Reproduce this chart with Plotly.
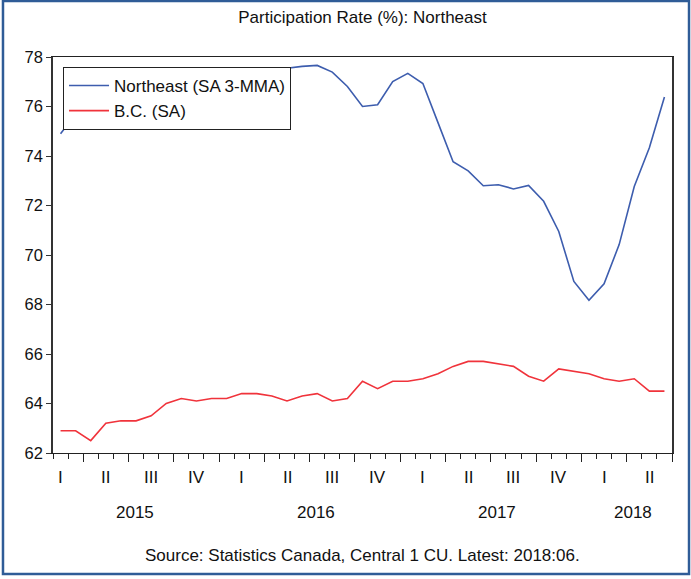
import pandas as pd
import plotly.graph_objects as go

# Monthly sample, 2015:02 - 2018:06
start_month = "2015-02-01"
n_months = 41

# Participation rate (%), Northeast, seasonally adjusted 3-month moving average
northeast = [
    74.9, 75.7, 76.2, 76.4, 76.0, 75.8, 76.1, 76.5, 76.9, 77.0,
    76.6, 76.3, 76.2, 76.4, 76.7, 77.55, 77.62, 77.66, 77.39, 76.81,
    76.00, 76.07, 77.01, 77.34, 76.93, 75.35, 73.77, 73.40, 72.80, 72.84,
    72.67, 72.81, 72.17, 70.95, 68.93, 68.17, 68.84, 70.42, 72.77, 74.33,
    76.38,
]

# Participation rate (%), British Columbia, seasonally adjusted
bc = [
    62.9, 62.9, 62.5, 63.2, 63.3, 63.3, 63.5, 64.0, 64.2, 64.1,
    64.2, 64.2, 64.4, 64.4, 64.3, 64.1, 64.3, 64.4, 64.1, 64.2,
    64.9, 64.6, 64.9, 64.9, 65.0, 65.2, 65.5, 65.7, 65.7, 65.6,
    65.5, 65.1, 64.9, 65.4, 65.3, 65.2, 65.0, 64.9, 65.0, 64.5,
    64.5,
]

series_names = ["Northeast (SA 3-MMA)", "B.C. (SA)"]
quarter_names = ["I", "II", "III", "IV"]
y_ticks = [62, 64, 66, 68, 70, 72, 74, 76, 78]

months = pd.date_range(start_month, periods=n_months, freq="MS")
idx = list(range(n_months))

FONT = "Liberation Sans, Arial, sans-serif"
BLUE = "#3D5DAE"
RED = "#F0333B"

fig = go.Figure()
fig.add_trace(go.Scatter(
    x=idx, y=northeast, mode="lines", name=series_names[0],
    line=dict(color=BLUE, width=1.6),
))
fig.add_trace(go.Scatter(
    x=idx, y=bc, mode="lines", name=series_names[1],
    line=dict(color=RED, width=1.6),
))

# Quarter boundaries (long ticks) and month boundaries (short ticks)
all_months = pd.date_range(start_month, periods=n_months + 1, freq="MS")
quarter_bounds = [i - 0.5 for i, m in enumerate(all_months) if m.month in (1, 4, 7, 10)]

annotations = []
# Quarter labels centred on the middle month of each quarter
for i, m in enumerate(months):
    if m.month in (2, 5, 8, 11):
        annotations.append(dict(
            x=i, y=-0.063, xref="x", yref="paper",
            text=quarter_names[(m.month - 1) // 3],
            showarrow=False, xanchor="center", yanchor="middle",
            font=dict(family=FONT, size=17, color="#111"),
        ))

# Year labels
for yr in sorted(set(months.year)):
    jan = (yr - months[0].year) * 12 + (1 - months[0].month)
    dec = min(jan + 11, n_months - 1)
    annotations.append(dict(
        x=(jan + dec) / 2 + 0.4, y=-0.149, xref="x", yref="paper",
        text=str(yr), showarrow=False, xanchor="center", yanchor="middle",
        font=dict(family=FONT, size=17, color="#111"),
    ))

annotations.append(dict(
    x=0.5, y=-0.26, xref="paper", yref="paper",
    text="Source: Statistics Canada, Central 1 CU. Latest: 2018:06.",
    showarrow=False, xanchor="center", yanchor="middle",
    font=dict(family=FONT, size=17, color="#111"),
))

fig.update_layout(
    width=691, height=579,
    margin=dict(l=53, r=19, t=57, b=126),
    paper_bgcolor="white", plot_bgcolor="white",
    font=dict(family=FONT, size=17, color="#111"),
    title=dict(
        text="Participation Rate (%): Northeast",
        x=0.5, xref="paper", xanchor="center",
        y=1 - 17 / 579, yref="container", yanchor="middle",
        font=dict(family=FONT, size=17, color="#111"),
    ),
    showlegend=True,
    legend=dict(
        x=0.0162, y=0.9747, xanchor="left", yanchor="top",
        bgcolor="white", bordercolor="#222", borderwidth=1,
        font=dict(family=FONT, size=17, color="#111"),
        itemwidth=40, entrywidth=240, entrywidthmode="pixels",
    ),
    annotations=annotations,
    shapes=[dict(
        type="rect", xref="paper", yref="paper",
        x0=-0.0808, x1=1.0275, y0=-0.3056, y1=1.1414,
        line=dict(color="#2F5C97", width=2.5), fillcolor="rgba(0,0,0,0)",
        layer="below",
    )],
)

fig.update_xaxes(
    range=[-0.5, n_months - 0.5],
    tickmode="array", tickvals=quarter_bounds, showticklabels=False,
    ticks="outside", ticklen=8, tickwidth=1, tickcolor="#222",
    minor=dict(tickmode="linear", tick0=-0.5, dtick=1, ticks="outside",
               ticklen=5, tickwidth=1, tickcolor="#222", showgrid=False),
    showline=True, linecolor="#222", linewidth=1, mirror=True,
    showgrid=False, zeroline=False,
)
fig.update_yaxes(
    range=[62, 78], tickmode="array", tickvals=y_ticks,
    ticks="outside", ticklen=5, tickwidth=1, tickcolor="#333",
    tickfont=dict(family=FONT, size=16.5, color="#111"),
    showline=True, linecolor="#333", linewidth=1.5, mirror=True,
    showgrid=False, zeroline=False,
)

fig.write_html("out.html")
